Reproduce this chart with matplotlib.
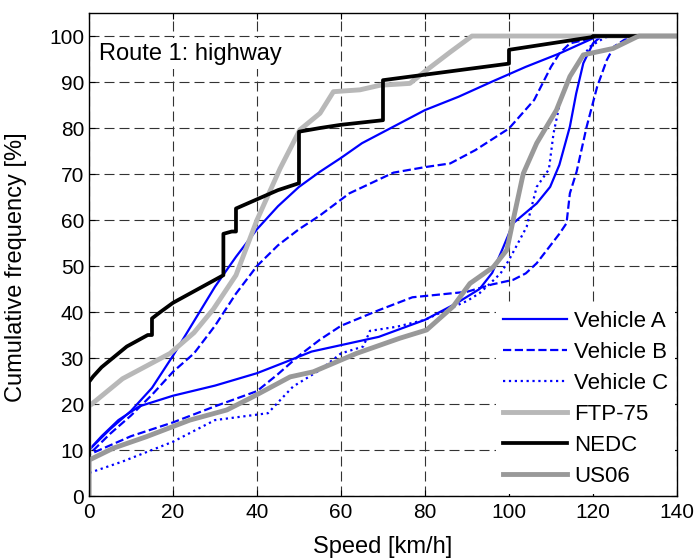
import matplotlib
matplotlib.use("Agg")
import matplotlib.pyplot as plt

plt.rcParams["font.family"] = ["Liberation Sans", "DejaVu Sans"]

# speed [km/h] / cumulative frequency [%]
a1_x = [0, 0, 5, 10, 15, 20, 25, 30, 35, 40, 45, 50, 55, 60, 65, 72.5, 80, 88, 96, 104, 112, 120, 122, 140]
a1_y = [0, 10, 14.5, 18.5, 23.5, 30.5, 38, 45.5, 52, 58, 63, 67.2, 70.5, 73.5, 76.7, 80.3, 83.9, 86.8, 90.1, 93.3, 96.2, 99.5, 100, 100]

b1_x = [0, 0, 5, 10, 15, 20, 25, 30, 35, 40, 45, 50, 55, 62, 72.5, 80, 86, 92, 100, 106, 110, 112, 114.5, 121, 140]
b1_y = [0, 9, 13.5, 17.5, 22, 27, 31, 37, 44, 50, 54.5, 58, 61, 65.8, 70.3, 71.5, 72.3, 75.2, 79.9, 86.1, 93.3, 96.2, 98.4, 99.8, 100]

a2_x = [0, 0, 3, 7, 12, 20, 30, 40, 47, 53, 60, 69, 80, 87.5, 93, 96, 98.6, 101, 106.6, 109.8, 112, 114.5, 116, 117.7, 120, 122, 140]
a2_y = [0, 10, 13, 16.5, 19.5, 21.8, 24, 26.7, 29.2, 31.4, 32.8, 34.6, 38.3, 41.9, 45, 48.5, 54, 59.3, 63.6, 67.2, 72, 80.3, 87.5, 94.1, 98.4, 100, 100]

b2_x = [0, 0, 10, 20, 30, 40, 45, 50, 55, 60, 69, 77, 90, 96, 101, 104, 106.6, 112, 113.7, 114.5, 116.1, 118.5, 121, 123.3, 125, 128, 129, 140]
b2_y = [0, 9, 13, 16, 19.5, 22.8, 26.5, 30.5, 34, 37, 40.4, 43.2, 44.4, 46, 47, 48.4, 50.6, 57, 59.3, 65.8, 70.5, 80.3, 89, 94.8, 97.7, 99.5, 100, 100]

c_x = [0, 0, 8, 20, 30, 42.6, 46.3, 48.6, 55, 60, 65.3, 66.9, 73.3, 80, 85, 90, 93, 95.5, 98, 100, 104.2, 105,
       106.6, 109.5, 110.6, 112.1, 114.5, 117, 119.3, 122.5, 124, 140]
c_y = [0, 5, 7.5, 11.8, 16.5, 18, 21.6, 23.8, 27.4, 31, 32.5, 35.9, 36.8, 38.3, 40.4, 42.4, 44.1, 46.2, 48.4, 51.3, 58.5, 61.5,
       67.2, 71, 78.8, 85.4, 91.2, 94.8, 97.7, 99.5, 100, 100]

ftp_x = [0, 0, 8, 19.3, 25, 29.6, 35, 40, 45.5, 50.2, 55, 58.2, 64.5, 69.3, 76.4, 80.4, 86, 91.2, 140]
ftp_y = [0, 19.5, 25.5, 31, 35.5, 40.6, 48, 60, 71.2, 79.6, 83.2, 87.9, 88.3, 89.3, 89.7, 92.6, 96.5, 100, 100]

nedc_x = [0, 0, 1, 3, 5, 7, 9, 11, 14, 15, 15, 17, 20, 24, 28, 31, 32, 32, 34, 35, 35, 40, 45, 50, 50,
          55, 60, 65, 70, 70, 80, 90, 100, 100, 110, 120, 120, 140]
nedc_y = [0, 24.8, 26, 28, 29.5, 31, 32.5, 33.5, 35, 35, 38.6, 40, 42, 44, 46, 47.5, 48, 57, 57.5, 57.5, 62.5, 64.5, 66.5, 68, 79.2,
          80, 80.7, 81.2, 81.7, 90.4, 91.6, 92.8, 94, 97, 98.4, 99.8, 100, 100]

us06_x = [0, 0, 5.8, 13.7, 24, 32.8, 39.1, 47.9, 53.4, 63.7, 74, 80.4, 86.7, 90.7, 96.3, 99.5, 101, 103.4, 106.6,
          111.3, 114.5, 117.7, 124.8, 130.4, 131, 140]
us06_y = [0, 7.8, 10.4, 12.9, 16.5, 18.7, 21.6, 25.9, 27, 31, 34.3, 36.1, 41.2, 46.2, 49.8, 53.5, 60, 70.1, 76.7,
          83.9, 91.2, 95.9, 97.3, 99.8, 100, 100]

blue = "#0000ff"

fig = plt.figure(figsize=(6.99, 5.59), dpi=100)
ax = fig.add_axes([0.1273, 0.1127, 0.8412, 0.864])

ax.plot(a1_x, a1_y, color=blue, lw=1.6, label="Vehicle A")
ax.plot(b1_x, b1_y, color=blue, lw=1.6, ls="--", label="Vehicle B")
ax.plot(a2_x, a2_y, color=blue, lw=1.6)
ax.plot(b2_x, b2_y, color=blue, lw=1.6, ls="--")
ax.plot(c_x, c_y, color=blue, lw=1.6, ls=":", label="Vehicle C")
ax.plot(ftp_x, ftp_y, color="#b8b8b8", lw=3.5, label="FTP-75")
ax.plot(nedc_x, nedc_y, color="black", lw=2.7, label="NEDC")
ax.plot(us06_x, us06_y, color="#999999", lw=3.5, label="US06")

ax.set_xlim(0, 140)
ax.set_ylim(0, 105)
ax.set_xticks(range(0, 141, 20))
ax.set_yticks(range(0, 101, 10))
ax.grid(True, color="#333333", lw=0.8, ls=(0, (9, 4.5)))
ax.set_axisbelow(True)
ax.tick_params(direction="in", length=4, top=True, right=True, labelsize=15)
ax.tick_params(axis="x", pad=5)
for s in ax.spines.values():
    s.set_linewidth(1.0)

ax.set_xlabel("Speed [km/h]", fontsize=17, labelpad=10)
ax.set_ylabel("Cumulative frequency [%]", fontsize=17)
ax.yaxis.set_label_coords(-0.105, 0.474)

ax.text(2.3, 96.2, "Route 1: highway", fontsize=17, va="center", ha="left", zorder=1.5,
        bbox=dict(facecolor="white", edgecolor="none", pad=3))

leg = ax.legend(loc="lower right", fontsize=16, frameon=True, handlelength=2.9,
                labelspacing=0.45, borderaxespad=0.1, handletextpad=0.3, borderpad=0.3)
leg.get_frame().set_edgecolor("none")
leg.get_frame().set_facecolor("white")
leg.get_frame().set_alpha(1)

fig.savefig("out.png", dpi=100)
